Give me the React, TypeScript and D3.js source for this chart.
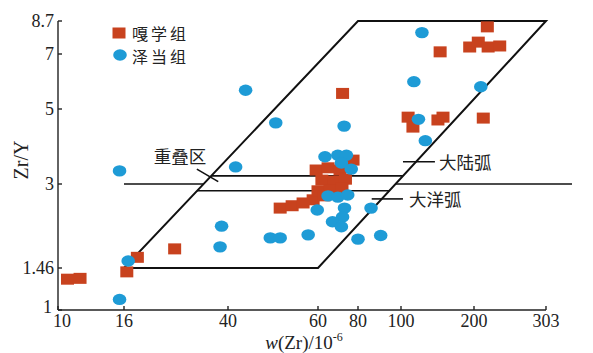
import React from "react";
import * as d3 from "d3";

// ---- axis ticks (the original chart spaces its labelled ticks unevenly) ----
const xTicks = [10, 16, 40, 60, 80, 100, 200, 303];
const yTicks = [1, 1.46, 3, 5, 7, 8.7];

// ---- series: 嘎学组 (squares) [Zr, Zr/Y] ----
const gaxueZr = [10.7, 11.7, 16.4, 18.0, 25.0, 50.6, 53.4, 56.1, 58.7,
  59.5, 64.5, 70.3, 61.7, 67.3, 73.1, 60.0, 65.4, 71.3, 77.2, 62.6, 72.6,
  71.6, 145, 216, 192, 205, 217, 232, 107, 112, 142, 149, 211];
const gaxueRatio = [1.32, 1.33, 1.41, 1.6, 1.72, 2.44, 2.49, 2.55, 2.62,
  3.3, 3.35, 3.3, 3.08, 3.06, 3.1, 2.83, 2.85, 2.9, 3.53, 2.71, 3.37,
  5.5, 7.1, 8.37, 7.33, 7.57, 7.33, 7.38, 4.73, 4.42, 4.64, 4.73, 4.7];

// ---- series: 泽当组 (circles) [Zr, Zr/Y] ----
const zedangZr = [15.5, 16.6, 15.5, 37.8, 37.3, 41.4, 43.3, 49.6, 48.4, 50.6,
  57.4, 59.8, 64.5, 69.2, 74.3, 72.6, 71.6, 66.6, 71.0, 85.6, 80, 90,
  63.1, 69.2, 73.6, 71.0, 76.2, 72.4, 122, 113, 208, 118, 126];
const zedangRatio = [1.1, 1.55, 3.28, 2.09, 1.75, 3.37, 5.61, 4.55, 1.89, 1.89,
  1.94, 2.4, 2.71, 2.68, 2.73, 2.44, 2.26, 2.17, 2.08, 2.44, 1.87, 1.93,
  3.61, 3.65, 3.65, 3.46, 3.32, 4.45, 8.06, 5.91, 5.73, 4.66, 4.03];

// ---- discrimination field (parallelogram) vertices [Zr, Zr/Y] ----
const fieldZr = [16, 80, 303, 60];
const fieldRatio = [1.46, 8.7, 8.7, 1.46];
// boundary levels
const boundaryMain = 3;
const overlapTop = 3.17;
const overlapBottom = 2.83;
const boundaryLeftStart = 16;
const boundaryRightEnd = 352;

// ---- annotations ----
const overlapLabel = "重叠区";
const overlapLabelPos = [26.2, 3.65];
const overlapLeader = [[30.4, 3.32], [36.7, 3.05]];
const contLabel = "大陆弧";
const contLeader = [[101.9, 3.49], [138, 3.49]];
const oceanLabel = "大洋弧";
const oceanLeader = [[85.9, 2.64], [101.9, 2.64]];
const legendLabels = ["嘎学组", "泽当组"];

const W = 593, H = 353;
const RED = "#c8421e";
const BLUE = "#1e9bd6";
const SERIF = "'Liberation Serif', 'Times New Roman', serif";
const CJK = "'Noto Sans CJK SC', sans-serif";

export default function App() {
  const x = d3.scaleLog().domain(xTicks).range([58, 124, 228, 318, 358, 401, 474, 546]);
  const y = d3.scaleLog().domain(yTicks).range([310, 268, 184, 109, 54, 21]);

  const P = fieldZr.map((v, i) => [x(v), y(fieldRatio[i])]);
  const edgeX = (a: number[], b: number[], yp: number) => a[0] + (b[0] - a[0]) * (yp - a[1]) / (b[1] - a[1]);
  const leftX = (val: number) => edgeX(P[0], P[1], y(val));
  const rightX = (val: number) => edgeX(P[3], P[2], y(val));

  const poly = d3.line()(P.concat([P[0]]) as [number, number][]) as string;

  const x0 = 58, yAxisBottom = 310, yTop = 21, xRight = 546;

  return (
    <svg width={W} height={H} style={{ position: "absolute", left: 0, top: 0, background: "#fff" }}>
      {/* field lines */}
      <g stroke="#111" fill="none">
        <path d={poly} strokeWidth={2} strokeLinejoin="miter" />
        <line x1={x(boundaryLeftStart)} x2={leftX(boundaryMain)} y1={y(boundaryMain)} y2={y(boundaryMain)} strokeWidth={1.6} />
        <line x1={rightX(boundaryMain)} x2={x(boundaryRightEnd)} y1={y(boundaryMain)} y2={y(boundaryMain)} strokeWidth={1.6} />
        <line x1={leftX(overlapTop)} x2={rightX(overlapTop)} y1={y(overlapTop)} y2={y(overlapTop)} strokeWidth={1.6} />
        <line x1={leftX(overlapBottom)} x2={rightX(overlapBottom)} y1={y(overlapBottom)} y2={y(overlapBottom)} strokeWidth={1.6} />
        {[overlapLeader, contLeader, oceanLeader].map((l, i) => (
          <line key={i} x1={x(l[0][0])} y1={y(l[0][1])} x2={x(l[1][0])} y2={y(l[1][1])} strokeWidth={1.6} />
        ))}
      </g>

      {/* annotation text */}
      <g fontFamily={CJK} fontSize={17.5} fill="#222" dominantBaseline="central">
        <text x={x(overlapLabelPos[0])} y={y(overlapLabelPos[1])} textAnchor="middle">{overlapLabel}</text>
        <text x={x(contLeader[1][0]) + 4} y={y(contLeader[1][1])}>{contLabel}</text>
        <text x={x(oceanLeader[1][0]) + 6} y={y(oceanLeader[1][1])}>{oceanLabel}</text>
      </g>

      {/* points */}
      <g fill={RED}>
        {gaxueZr.map((v, i) => (
          <rect key={i} x={x(v) - 6.5} y={y(gaxueRatio[i]) - 5.5} width={13} height={11} />
        ))}
      </g>
      <g fill={BLUE}>
        {zedangZr.map((v, i) => (
          <ellipse key={i} cx={x(v)} cy={y(zedangRatio[i])} rx={6.8} ry={5.7} />
        ))}
      </g>

      {/* axes */}
      <g stroke="#222" strokeWidth={1.4} fill="none">
        <line x1={x0} x2={x0} y1={yTop} y2={yAxisBottom} />
        <line x1={x0} x2={xRight} y1={yAxisBottom} y2={yAxisBottom} />
        {yTicks.map((t) => (
          <line key={"yt" + t} x1={x0} x2={x0 + 4} y1={y(t)} y2={y(t)} />
        ))}
        {xTicks.map((t) => (
          <line key={"xt" + t} x1={x(t)} x2={x(t)} y1={yAxisBottom} y2={yAxisBottom - 4} />
        ))}
      </g>
      <g fontFamily={SERIF} fontSize={18} fill="#222">
        {yTicks.map((t) => (
          <text key={"yl" + t} x={t === 1 ? 52 : 54} y={y(t) - (t === 1 ? 3 : 0)} textAnchor="end" dominantBaseline="central">{String(t)}</text>
        ))}
        {xTicks.map((t) => (
          <text key={"xl" + t} x={x(t) + (t === 10 ? 4 : 0)} y={327} textAnchor="middle">{String(t)}</text>
        ))}
      </g>
      <text fontFamily={SERIF} fontSize={19} fill="#222" x={304} y={348.5} textAnchor="middle">
        <tspan fontStyle="italic">w</tspan>(Zr)/10<tspan fontSize={12} dy={-8}>-6</tspan>
      </text>
      <text fontFamily={SERIF} fontSize={20} fill="#222" transform="translate(28,160) rotate(-90)" textAnchor="middle">Zr/Y</text>

      {/* legend */}
      <rect x={119 - 6.5} y={33 - 5.5} width={13} height={11} fill={RED} />
      <ellipse cx={120} cy={55} rx={6.8} ry={5.7} fill={BLUE} />
      <g fontFamily={CJK} fontSize={16} fill="#222" dominantBaseline="central">
        <text x={132} y={32.5} textLength={54} lengthAdjust="spacing">{legendLabels[0]}</text>
        <text x={132} y={56} textLength={54} lengthAdjust="spacing">{legendLabels[1]}</text>
      </g>
    </svg>
  );
}
